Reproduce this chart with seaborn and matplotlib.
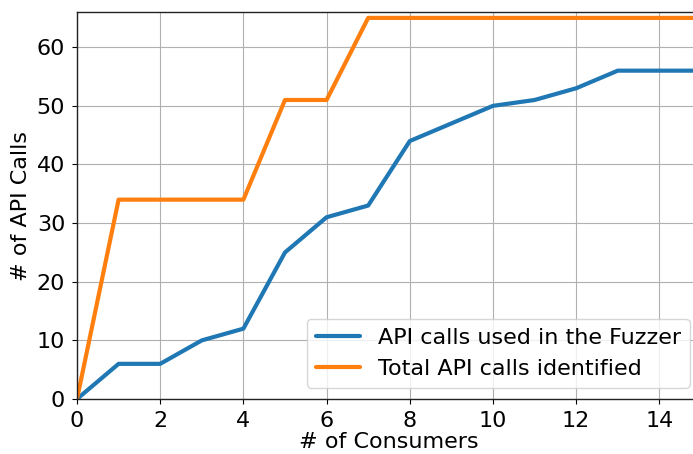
import matplotlib
matplotlib.use("Agg")
import matplotlib.pyplot as plt
import pandas as pd
import seaborn as sns

# number of consumers on the x axis
consumers = list(range(0, 16))
fuzzer_calls = [0, 6, 6, 10, 12, 25, 31, 33, 44, 47, 50, 51, 53, 56, 56, 56]
total_calls = [0, 34, 34, 34, 34, 51, 51, 65, 65, 65, 65, 65, 65, 65, 65, 65]

label_fuzzer = "API calls used in the Fuzzer"
label_total = "Total API calls identified"

df = pd.DataFrame({
    "consumers": consumers * 2,
    "calls": fuzzer_calls + total_calls,
    "series": [label_fuzzer] * len(consumers) + [label_total] * len(consumers),
})

sns.set_style("ticks")
plt.rcParams["font.family"] = ["DejaVu Sans"]
plt.rcParams.update({
    "text.color": "black",
    "axes.labelcolor": "black",
    "xtick.color": "black",
    "ytick.color": "black",
})

fig = plt.figure(figsize=(6.93, 4.54), dpi=100)
# axes runs slightly past the right edge, as in the cropped original
ax = fig.add_axes([0.1111, 0.1211, 0.9004, 0.8524])

sns.lineplot(data=df, x="consumers", y="calls", hue="series",
             palette=["#1f77b4", "#ff7f0e"], linewidth=3, ax=ax)

ax.set_xlim(0, 15)
ax.set_ylim(0, 66)
ax.set_xticks([0, 2, 4, 6, 8, 10, 12, 14])
ax.set_yticks([0, 10, 20, 30, 40, 50, 60])
ax.grid(True, color="#b0b0b0", linewidth=0.8)
ax.set_axisbelow(True)
for s in ax.spines.values():
    s.set_color("#222222")
    s.set_linewidth(1.0)

ax.tick_params(labelsize=16, length=3.5, width=0.8, pad=5)
ax.set_xlabel("# of Consumers", fontsize=16, labelpad=1)
ax.set_ylabel("# of API Calls", fontsize=16)

ax.legend(loc="lower right", fontsize=16, title=None, framealpha=0.8,
          bbox_to_anchor=(1.0, 0.0), borderaxespad=0.5)

fig.savefig("out.png", dpi=100)
